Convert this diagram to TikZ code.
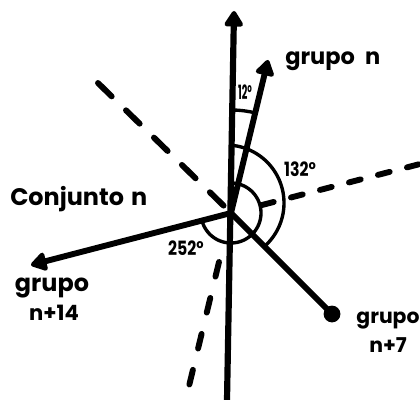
\documentclass[tikz,border=0pt]{standalone}
\usepackage{fontspec}
\setmainfont{Poppins}
\usetikzlibrary{arrows.meta}
\begin{document}
\begin{tikzpicture}[x=0.025cm,y=-0.025cm]
\useasboundingbox (0,0) rectangle (420,400);
\tikzset{
  axisline/.style={line width=4.4pt},
  rayline/.style={line width=4.2pt},
  tipend/.style={-{Triangle[round,length=0.44cm,width=0.52cm]}},
  dashul/.style={line width=4.2pt, line cap=round, dash pattern=on 13.6pt off 14.2pt},
  dashr/.style={line width=4.2pt, line cap=round, dash pattern=on 8.6pt off 12.7pt},
  dashlo/.style={line width=4.2pt, line cap=round, dash pattern=on 10.7pt off 15.6pt},
  angarc/.style={line width=2.4pt},
  lbl/.style={inner sep=0pt},
  anglbl/.style={inner sep=0pt, font=\bfseries\fontsize{14}{14}\selectfont, xscale=0.8},
}
% key points
\coordinate (C) at (231,213);
\coordinate (vtop) at (234,11);
\coordinate (vbot) at (227,400);
\coordinate (gn) at (268,60);
\coordinate (g14) at (31,265);
\coordinate (ulend) at (98,83);
\coordinate (ulstart) at (226,208);
\coordinate (rstart) at (262,205);
\coordinate (rend) at (420,164);
\coordinate (lostart) at (219,262);
\coordinate (loend) at (189,386);
\node[circle, fill=black, inner sep=0pt, minimum size=0.42cm] (g7) at (332,314) {};

% dashed extensions
\draw[dashul] (ulend) -- (ulstart);
\draw[dashr] (rstart) -- (rend);
\draw[dashlo] (lostart) -- (loend);

% axis and rays
\draw[axisline, tipend] (vbot) -- (vtop);
\draw[rayline, tipend] (C) -- (gn);
\draw[rayline, tipend] (C) -- (g14);
\draw[rayline] (C) -- (g7.center);

% angle arcs
\draw[angarc] plot[domain=-91:-76.4, samples=12] ({231+103*cos(\x)},{213+103*sin(\x)});
\draw[angarc] plot[domain=-84:48, samples=60] ({226+58*cos(\x)},{203+58*sin(\x)});
\draw[angarc] plot[domain=-90:165, samples=80] ({231+30*cos(\x)},{213+30*sin(\x)});

% labels
\node[lbl, anchor=base west, font=\bfseries\fontsize{16}{16}\selectfont] (tgn) at (285,65) {grupo\hspace{0.45em}n};
\node[lbl, anchor=base west, font=\bfseries\fontsize{17}{17}\selectfont] (tconj) at (10,205) {Conjunto\hspace{0.3em}n};
\node[lbl, anchor=base, font=\bfseries\fontsize{17}{17}\selectfont] (t14a) at (52,291) {grupo};
\node[lbl, anchor=base, font=\bfseries\fontsize{15}{15}\selectfont] (t14b) at (54,320) {n+14};
\node[lbl, anchor=base, font=\bfseries\fontsize{14.5}{14.5}\selectfont] (t7a) at (388,323) {grupo};
\node[lbl, anchor=base, font=\bfseries\fontsize{14.5}{14.5}\selectfont] (t7b) at (388,352) {n+7};
\node[anglbl, font=\bfseries\fontsize{14}{14}\selectfont, xscale=0.62] (a12) at (245,92) {12°};
\node[anglbl] (a132) at (300,169) {132°};
\node[anglbl] (a252) at (186,248) {252°};
\end{tikzpicture}
\end{document}
